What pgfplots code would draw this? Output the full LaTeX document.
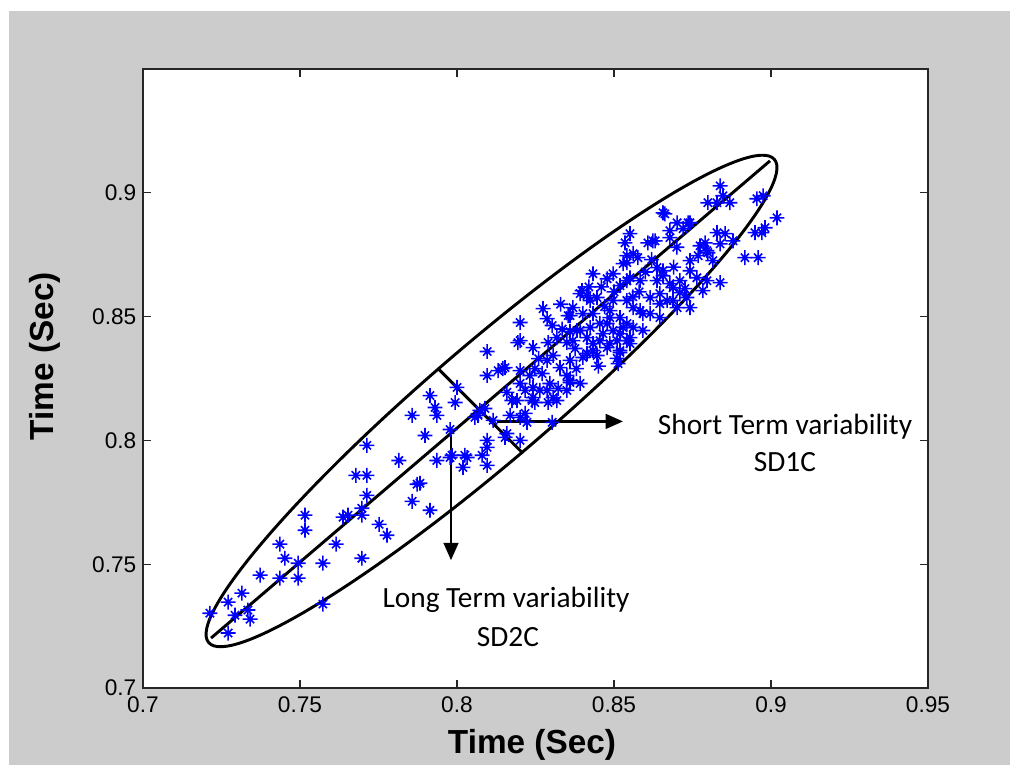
\documentclass[border=0pt]{standalone}
\usepackage{fontspec}
\setmainfont{Liberation Sans}
\newfontfamily\calib{Carlito}
\usepackage{pgfplots}
\pgfplotsset{compat=1.18}
\usetikzlibrary{arrows.meta}

\definecolor{figgray}{RGB}{204,204,204}

% matlab style '*' marker: plus with shorter diagonals
\pgfdeclareplotmark{mstar}{%
  \pgfpathmoveto{\pgfqpoint{-\pgfplotmarksize}{0pt}}%
  \pgfpathlineto{\pgfqpoint{\pgfplotmarksize}{0pt}}%
  \pgfpathmoveto{\pgfqpoint{0pt}{-\pgfplotmarksize}}%
  \pgfpathlineto{\pgfqpoint{0pt}{\pgfplotmarksize}}%
  \pgfpathmoveto{\pgfqpoint{-0.55\pgfplotmarksize}{-0.55\pgfplotmarksize}}%
  \pgfpathlineto{\pgfqpoint{0.55\pgfplotmarksize}{0.55\pgfplotmarksize}}%
  \pgfpathmoveto{\pgfqpoint{-0.55\pgfplotmarksize}{0.55\pgfplotmarksize}}%
  \pgfpathlineto{\pgfqpoint{0.55\pgfplotmarksize}{-0.55\pgfplotmarksize}}%
  \pgfusepathqstroke}

\pgfplotstableread{
x y
0.7213 0.7302
0.7271 0.7347
0.7315 0.7383
0.7293 0.7294
0.7334 0.7315
0.7341 0.7278
0.7271 0.7222
0.7373 0.7456
0.7436 0.7444
0.7494 0.7444
0.7494 0.7504
0.7452 0.7524
0.7436 0.7581
0.7573 0.7504
0.7573 0.7339
0.7615 0.7581
0.7516 0.7637
0.7516 0.7698
0.7637 0.7690
0.7653 0.7698
0.7697 0.7698
0.7697 0.7726
0.7713 0.7778
0.7678 0.7859
0.7713 0.7859
0.7713 0.7980
0.7752 0.7661
0.7777 0.7617
0.7697 0.7524
0.7815 0.7919
0.7873 0.7823
0.7857 0.7754
0.7914 0.7718
0.7898 0.8020
0.7857 0.8101
0.7914 0.8181
0.7930 0.8133
0.7936 0.8101
0.7936 0.7919
0.7882 0.7827
0.8000 0.8214
0.7978 0.8044
0.7994 0.8153
0.8073 0.8121
0.8067 0.8101
0.8089 0.8129
0.8057 0.8093
0.8115 0.8081
0.8096 0.8359
0.8153 0.8294
0.8131 0.8282
0.8096 0.8262
0.8201 0.8282
0.8248 0.8290
0.8201 0.8476
0.8194 0.8395
0.8242 0.8375
0.8159 0.8194
0.8175 0.8161
0.8217 0.8202
0.8239 0.8161
0.8169 0.8101
0.8201 0.8093
0.8223 0.8073
0.8303 0.8073
0.8153 0.8012
0.8201 0.8000
0.8096 0.8000
0.8096 0.7972
0.8025 0.7940
0.8080 0.7940
0.8096 0.7899
0.8019 0.7891
0.7984 0.7940
0.8032 0.7931
0.7978 0.7931
0.8159 0.8028
0.8287 0.8202
0.8290 0.8153
0.8248 0.8153
0.8360 0.8234
0.8433 0.8673
0.8497 0.8673
0.8529 0.8714
0.8541 0.8645
0.8274 0.8532
0.8287 0.8492
0.8303 0.8464
0.8360 0.8504
0.8201 0.8403
0.8290 0.8395
0.8146 0.8290
0.8242 0.8173
0.8322 0.8210
0.8360 0.8242
0.8392 0.8593
0.8414 0.8585
0.8446 0.8577
0.8487 0.8524
0.8519 0.8496
0.8541 0.8472
0.8392 0.8444
0.8414 0.8415
0.8433 0.8363
0.8446 0.8343
0.8478 0.8375
0.8510 0.8403
0.8541 0.8403
0.8510 0.8331
0.8360 0.8323
0.8328 0.8294
0.8306 0.8343
0.8350 0.8395
0.8318 0.8415
0.8376 0.8371
0.8287 0.8323
0.8271 0.8270
0.8232 0.8262
0.8350 0.8262
0.8296 0.8230
0.8201 0.8230
0.8242 0.8214
0.8318 0.8161
0.8433 0.8512
0.8455 0.8472
0.8401 0.8335
0.8541 0.8565
0.8497 0.8444
0.8519 0.8355
0.8414 0.8351
0.8455 0.8403
0.8592 0.8512
0.8561 0.8536
0.8392 0.8230
0.8350 0.8202
0.8306 0.8173
0.8264 0.8202
0.8191 0.8161
0.8217 0.8109
0.8513 0.8310
0.8662 0.8915
0.8701 0.8879
0.8678 0.8847
0.8720 0.8855
0.8551 0.8835
0.8631 0.8806
0.8608 0.8798
0.8541 0.8746
0.8576 0.8738
0.8541 0.8718
0.8519 0.8625
0.8583 0.8645
0.8637 0.8698
0.8656 0.8665
0.8678 0.8633
0.8710 0.8645
0.8726 0.8613
0.8646 0.8593
0.8615 0.8577
0.8669 0.8565
0.8701 0.8536
0.8398 0.8605
0.8424 0.8565
0.8369 0.8536
0.8354 0.8504
0.8401 0.8512
0.8497 0.8565
0.8583 0.8524
0.8615 0.8512
0.8646 0.8496
0.8487 0.8496
0.8561 0.8456
0.8592 0.8444
0.8382 0.8444
0.8424 0.8456
0.8519 0.8431
0.8551 0.8415
0.8369 0.8403
0.8433 0.8391
0.8487 0.8391
0.8838 0.9028
0.8847 0.8988
0.8799 0.8960
0.8828 0.8960
0.8869 0.8960
0.8955 0.8976
0.8975 0.8988
0.8656 0.8919
0.8742 0.8879
0.8624 0.8806
0.8678 0.8819
0.8828 0.8839
0.8854 0.8835
0.8879 0.8806
0.8971 0.8839
0.8949 0.8839
0.8981 0.8859
0.8790 0.8798
0.8799 0.8758
0.8768 0.8746
0.8742 0.8726
0.8815 0.8726
0.8838 0.8794
0.8917 0.8738
0.8959 0.8738
0.8742 0.8685
0.8764 0.8657
0.8656 0.8685
0.8637 0.8645
0.8688 0.8617
0.8796 0.8645
0.8838 0.8637
0.8783 0.8605
0.8732 0.8577
0.8551 0.8657
0.8561 0.8754
0.9019 0.8899
0.8796 0.8766
0.8535 0.8798
0.8774 0.8786
0.8478 0.8653
0.8742 0.8536
0.8529 0.8456
0.8478 0.8472
0.8465 0.8431
0.8551 0.8391
0.8519 0.8363
0.8710 0.8597
0.8646 0.8552
0.8688 0.8565
0.8736 0.8879
0.8335 0.8450
0.8380 0.8290
0.8450 0.8300
0.8470 0.8540
0.8420 0.8620
0.8500 0.8600
0.8360 0.8440
0.8260 0.8330
0.8330 0.8550
0.8460 0.8620
0.8580 0.8600
0.8600 0.8680
0.8620 0.8730
0.8690 0.8700
0.8700 0.8780
0.8560 0.8580
}\rrdata

\begin{document}
\begin{tikzpicture}
\useasboundingbox (0,0) rectangle (757.5pt,573.75pt);
\fill[white] (0,0) rectangle (757.5pt,573.75pt);
\fill[figgray] (6.75pt,0) rectangle (757.5pt,565.5pt);
\begin{axis}[
    at={(107.25pt,57.75pt)}, anchor=south west,
    scale only axis,
    width=588.75pt, height=464.25pt,
    xmin=0.7, xmax=0.95,
    ymin=0.7, ymax=0.95,
    xtick={0.7,0.75,0.8,0.85,0.9,0.95},
    ytick={0.7,0.75,0.8,0.85,0.9},
    tick align=inside,
    major tick length=6pt,
    axis background/.style={fill=white},
    axis line style={line width=0.8pt, black!85},
    tick style={line width=0.8pt, black!85},
    /pgf/number format/assume math mode=true,
    ticklabel style={font=\fontsize{17}{19}\selectfont},
    xticklabel style={yshift=-3pt},
    yticklabel style={xshift=-1.5pt},
    xlabel={Time (Sec)},
    ylabel={Time (Sec)},
    label style={font=\fontsize{25}{28}\selectfont\bfseries},
    xlabel style={at={(axis description cs:0.4955,-0.092)}, anchor=center},
    ylabel style={at={(axis description cs:-0.1248,0.536)}, anchor=center, rotate=0},
    clip=false,
]
\addplot[only marks, mark=mstar, mark size=5.6pt, blue, line width=1.2pt] table[x=x, y=y] {\rrdata};

% Poincare ellipse and its axes
\draw[line width=2.2pt, rotate around={40.5:(axis cs:0.81099,0.81593)}]
    (axis cs:0.81099,0.81593) ellipse [x radius=279pt, y radius=44.25pt];
\draw[line width=2.2pt] (axis cs:0.72166,0.72016) -- (axis cs:0.89968,0.91290);
\draw[line width=2.2pt] (axis cs:0.79427,0.82863) -- (axis cs:0.82102,0.79476);
\draw[line width=1.8pt, -{Triangle[length=13pt,width=11pt]}]
    (axis cs:0.81274,0.80766) -- (axis cs:0.85287,0.80766);
\draw[line width=1.8pt, -{Triangle[length=13pt,width=11pt]}]
    (axis cs:0.79809,0.80202) -- (axis cs:0.79809,0.75161);

\node[anchor=base, font=\calib\fontsize{22}{26}\selectfont] at (axis cs:0.90446,0.80242) {Short Term variability};
\node[anchor=base, font=\calib\fontsize{22}{26}\selectfont] at (axis cs:0.90446,0.78750) {SD1C};
\node[anchor=base, font=\calib\fontsize{22}{26}\selectfont] at (axis cs:0.81561,0.73266) {Long Term variability};
\node[anchor=base, font=\calib\fontsize{22}{26}\selectfont] at (axis cs:0.81624,0.71694) {SD2C};
\end{axis}
\end{tikzpicture}
\end{document}
